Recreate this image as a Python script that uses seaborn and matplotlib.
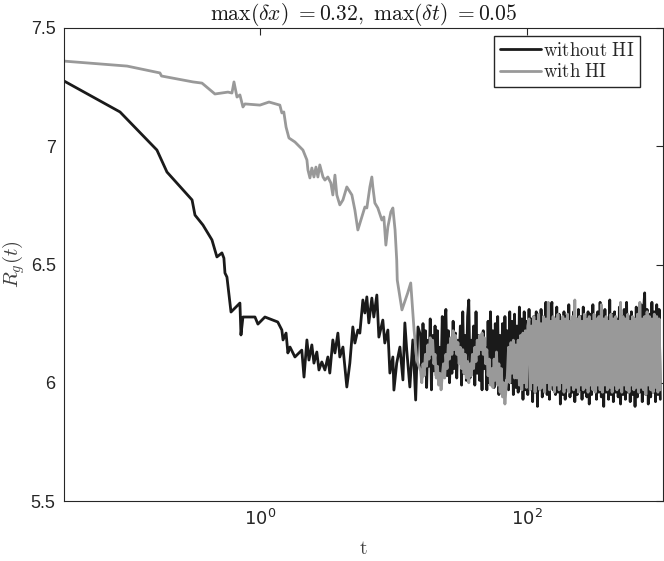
import matplotlib
matplotlib.use("Agg")
import matplotlib.pyplot as plt
import seaborn as sns
import pandas as pd

# early part of each run
t_no_hi = [0.034, 0.0894, 0.169, 0.201, 0.310, 0.326, 0.374, 0.437, 0.476, 0.519,
           0.537, 0.547, 0.566, 0.607, 0.708, 0.721, 0.746, 0.918, 0.966, 1.09,
           1.36, 1.46, 1.49, 1.57, 1.62, 1.68, 1.83, 2.06, 2.14, 2.25,
           2.33, 2.45, 2.54, 2.67, 2.77, 2.91, 3.07, 3.23, 3.34, 3.52,
           3.65, 3.84, 3.97, 4.19, 4.33, 4.48, 4.72, 4.97, 5.15, 5.42,
           5.61, 5.91, 6.12, 6.33, 6.55, 6.90, 7.14, 7.52, 7.79, 8.34,
           8.63, 9.10, 9.42, 9.92, 10.1, 10.6, 11.2, 11.8, 12.2, 12.6,
           13.3, 14.0, 14.7, 15.3]
rg_no_hi = [7.276, 7.145, 6.984, 6.891, 6.773, 6.709, 6.667, 6.604, 6.532, 6.549,
            6.527, 6.464, 6.447, 6.299, 6.337, 6.202, 6.278, 6.278, 6.248, 6.278,
            6.257, 6.223, 6.181, 6.210, 6.126, 6.151, 6.109, 6.138, 6.024, 6.181,
            6.096, 6.160, 6.083, 6.130, 6.054, 6.088, 6.054, 6.109, 6.041, 6.181,
            6.126, 6.210, 6.109, 6.151, 6.067, 5.982, 6.083, 6.236, 6.168, 6.223,
            6.210, 6.350, 6.295, 6.363, 6.253, 6.358, 6.278, 6.371, 6.193, 6.265,
            6.168, 6.223, 6.041, 6.109, 5.969, 6.083, 6.151, 6.012, 6.253, 6.138,
            5.982, 6.181, 5.927, 6.236]

t_hi = [0.034, 0.101, 0.178, 0.183, 0.315, 0.368, 0.460, 0.576, 0.617, 0.639,
        0.673, 0.708, 0.746, 0.772, 1.00, 1.17, 1.41, 1.46, 1.51, 1.57,
        1.65, 1.83, 2.10, 2.25, 2.29, 2.37, 2.45, 2.54, 2.63, 2.72,
        2.81, 2.97, 3.07, 3.23, 3.40, 3.52, 3.65, 3.77, 3.97, 4.19,
        4.48, 4.89, 5.15, 5.42, 5.81, 6.12, 6.33, 6.67, 6.90, 7.02,
        7.27, 7.65, 8.20, 8.49, 8.79, 9.10, 9.58, 9.92, 10.3, 10.6,
        10.7, 11.6, 12.8, 13.5, 14.3, 15.0]
rg_hi = [7.360, 7.339, 7.310, 7.297, 7.272, 7.267, 7.221, 7.229, 7.225, 7.272,
         7.208, 7.217, 7.166, 7.179, 7.174, 7.187, 7.174, 7.141, 7.145, 7.081,
         7.035, 7.018, 6.984, 6.942, 6.900, 6.866, 6.908, 6.870, 6.912, 6.870,
         6.921, 6.870, 6.857, 6.870, 6.845, 6.794, 6.878, 6.794, 6.752, 6.773,
         6.828, 6.794, 6.730, 6.646, 6.701, 6.743, 6.739, 6.828, 6.870, 6.828,
         6.760, 6.739, 6.688, 6.701, 6.582, 6.659, 6.722, 6.739, 6.646, 6.519,
         6.434, 6.308, 6.379, 6.422, 6.223, 6.096]

# fluctuating tail, shared sampling times
t_tail = [16.0, 16.34, 16.68, 17.03, 17.39, 17.76, 18.13, 18.51, 18.90, 19.30,
          19.70, 20.12, 20.54, 20.97, 21.41, 21.86, 22.32, 22.79, 23.27, 23.76,
          24.26, 24.77, 25.29, 25.82, 26.36, 26.92, 27.48, 28.06, 28.65, 29.25,
          29.87, 30.49, 31.13, 31.79, 32.46, 33.14, 33.84, 34.55, 35.27, 36.01,
          36.77, 37.54, 38.33, 39.14, 39.96, 40.80, 41.66, 42.53, 43.42, 44.34,
          45.27, 46.22, 47.19, 48.18, 49.19, 50.22, 51.28, 52.36, 53.46, 54.58,
          55.73, 56.90, 58.09, 59.31, 60.56, 61.83, 63.13, 64.45, 65.81, 67.19,
          68.60, 70.04, 71.51, 73.02, 74.55, 76.12, 77.71, 79.35, 81.01, 82.72,
          84.45, 86.23, 88.04, 89.89, 91.78, 93.70, 95.67, 97.68, 99.73, 101.8,
          104.0, 106.2, 108.4, 110.7, 113.0, 115.4, 117.8, 120.3, 122.8, 125.4,
          128.0, 130.7, 133.5, 136.3, 139.1, 142.1, 145.0, 148.1, 151.2, 154.4,
          157.6, 160.9, 164.3, 167.8, 171.3, 174.9, 178.6, 182.3, 186.2, 190.1,
          194.1, 198.1, 202.3, 206.6, 210.9, 215.3, 219.8, 224.5, 229.2, 234.0,
          238.9, 243.9, 249.0, 254.3, 259.6, 265.1, 270.6, 276.3, 282.1, 288.1,
          294.1, 300.3, 306.6, 313.0, 319.6, 326.3, 333.2, 340.2, 347.3, 354.6,
          362.1, 369.7, 377.4, 385.4, 393.5, 401.7, 410.2, 418.8, 427.6, 436.6,
          445.7, 455.1, 464.6, 474.4, 484.4, 494.5, 504.9, 515.5, 526.4, 537.4,
          548.7, 560.2, 572.0, 584.0, 596.3, 608.8, 621.6, 634.7, 648.0, 661.6,
          675.5, 689.7, 704.2, 719.0, 734.1, 749.5, 765.3, 781.4, 797.8, 814.5,
          831.6, 849.1, 867.0, 885.2, 903.8, 922.7, 942.1, 961.9, 982.1, 1002.8]
rg_no_hi_tail = [6.20, 6.02, 6.25, 6.08, 6.22, 5.98, 6.18, 6.07, 6.27, 5.97,
                 6.20, 6.05, 6.24, 6.03, 6.22, 6.00, 6.15, 6.04, 6.28, 6.06,
                 6.25, 6.31, 6.03, 6.22, 6.00, 6.15, 6.04, 6.26, 6.06, 6.21,
                 6.02, 6.18, 6.10, 6.24, 5.99, 6.30, 6.04, 6.20, 6.01, 6.28,
                 6.35, 6.02, 6.18, 6.10, 6.24, 5.99, 6.30, 6.04, 6.20, 6.01,
                 6.15, 5.97, 6.22, 6.06, 6.15, 5.97, 6.26, 6.00, 6.30, 6.04,
                 6.22, 5.98, 6.25, 6.02, 6.28, 5.95, 6.20, 6.00, 6.25, 5.94,
                 6.28, 6.02, 6.22, 5.97, 6.30, 6.00, 6.26, 5.95, 6.29, 5.98,
                 6.24, 5.96, 6.32, 5.99, 6.27, 5.93, 6.30, 5.97, 6.26, 5.95,
                 6.31, 5.98, 6.27, 5.92, 6.28, 5.96, 6.30, 5.90, 6.25, 5.97,
                 6.31, 5.94, 6.27, 5.98, 6.34, 5.95, 6.28, 5.93, 6.30, 6.34,
                 5.97, 6.26, 5.95, 6.32, 5.96, 6.29, 5.91, 6.27, 5.95, 6.30,
                 5.93, 6.28, 5.97, 6.33, 5.94, 6.26, 5.96, 6.30, 5.92, 6.27,
                 5.95, 6.31, 5.97, 6.28, 5.93, 6.32, 5.96, 6.27, 5.94, 6.30,
                 5.91, 6.29, 5.95, 6.33, 5.97, 6.27, 5.93, 6.30, 5.96, 6.34,
                 5.94, 6.28, 5.90, 6.31, 5.96, 6.27, 5.93, 6.35, 5.95, 6.29,
                 5.92, 6.30, 5.96, 6.27, 5.94, 6.32, 5.91, 6.28, 5.95, 6.31,
                 5.93, 6.34, 5.96, 6.28, 5.92, 6.30, 5.95, 6.27, 5.90, 6.32,
                 5.94, 6.29, 5.96, 6.33, 5.92, 6.30, 6.38, 5.95, 6.31, 5.91,
                 6.29, 5.94, 6.34, 5.96, 6.30, 5.92, 6.33, 5.95, 6.31, 5.93]
rg_hi_tail = [6.05, 6.00, 6.08, 6.03, 6.12, 6.07, 6.16, 6.10, 6.19, 6.12,
              6.18, 6.08, 6.12, 6.02, 6.07, 5.99, 6.04, 5.97, 6.03, 6.08,
              6.02, 6.12, 6.06, 6.16, 6.10, 6.19, 6.12, 6.22, 6.14, 6.20,
              6.12, 6.17, 6.08, 6.15, 6.06, 6.14, 6.04, 6.12, 6.02, 6.09,
              6.00, 6.08, 6.03, 6.12, 6.06, 6.15, 6.09, 6.18, 6.12, 6.20,
              6.14, 6.21, 6.12, 6.19, 6.08, 6.14, 6.03, 6.10, 5.99, 6.06,
              5.98, 6.10, 6.01, 6.13, 5.99, 6.08, 5.96, 6.06, 5.94, 6.00,
              5.91, 5.98, 6.03, 6.15, 6.00, 6.17, 6.04, 6.18, 6.02, 6.16,
              6.02, 6.18, 5.99, 6.20, 5.97, 6.21, 6.00, 6.22, 5.98, 6.24,
              6.27, 5.97, 6.24, 6.00, 6.28, 5.96, 6.26, 5.99, 6.29, 5.97,
              6.25, 5.98, 6.28, 5.96, 6.27, 6.00, 6.34, 5.97, 6.26, 5.99,
              6.28, 5.96, 6.27, 5.99, 6.29, 5.97, 6.26, 6.00, 6.28, 5.96,
              6.27, 5.98, 6.29, 5.96, 6.26, 5.99, 6.28, 5.97, 6.35, 5.98,
              6.27, 5.96, 6.28, 5.99, 6.26, 5.97, 6.29, 5.98, 6.27, 5.96,
              6.28, 5.99, 6.26, 5.97, 6.29, 5.96, 6.27, 5.99, 6.28, 5.97,
              6.33, 5.96, 6.27, 5.99, 6.28, 5.97, 6.26, 5.98, 6.29, 5.96,
              6.27, 5.99, 6.28, 5.97, 6.26, 5.98, 6.34, 5.96, 6.28, 5.99,
              6.27, 5.97, 6.29, 5.96, 6.26, 5.99, 6.28, 5.97, 6.27, 5.98,
              6.29, 5.96, 6.34, 5.98, 6.27, 5.97, 6.28, 5.95, 6.30, 5.99,
              6.28, 5.97, 6.27, 5.96, 6.29, 5.98, 6.28, 5.96, 6.27, 5.97]

no_hi = pd.DataFrame({"t": t_no_hi + t_tail, "Rg": rg_no_hi + rg_no_hi_tail})
hi = pd.DataFrame({"t": t_hi + t_tail, "Rg": rg_hi + rg_hi_tail})

sns.set_style("white")
plt.rcParams["font.family"] = ["Liberation Sans", "DejaVu Sans"]
plt.rcParams["mathtext.fontset"] = "cm"
axcol = "#262626"

fig = plt.figure(figsize=(6.64, 5.61), dpi=100)
ax = fig.add_axes([64 / 664, 1 - 501 / 561, 599 / 664, 473 / 561])

sns.lineplot(data=no_hi, x="t", y="Rg", ax=ax, color="#1a1a1a", lw=2.0,
             estimator=None, sort=False, label=r"$\mathrm{without\ HI}$")
sns.lineplot(data=hi, x="t", y="Rg", ax=ax, color="#999999", lw=2.0,
             estimator=None, sort=False, label=r"$\mathrm{with\ HI}$")

ax.set_xscale("log")
ax.set_xlim(0.034, 1050)
ax.set_ylim(5.5, 7.5)
ax.set_xticks([1, 100])
ax.set_xticklabels(["$10^0$", "$10^2$"])
ax.minorticks_off()
ax.set_yticks([5.5, 6, 6.5, 7, 7.5])
ax.set_yticklabels(["5.5", "6", "6.5", "7", "7.5"])
ax.tick_params(direction="in", length=5, width=0.8, colors=axcol, labelsize=13,
               top=True, right=True, pad=6)
for lab in ax.get_xticklabels():
    lab.set_math_fontfamily("dejavusans")
for sp in ax.spines.values():
    sp.set_color(axcol)
    sp.set_linewidth(0.8)

ax.set_xlabel(r"$\mathrm{t}$", fontsize=14, color="#404040", labelpad=8)
ax.set_ylabel(r"$R_g(t)$", fontsize=15, color="#404040", labelpad=3)
ax.set_title(r"$\max(\delta x)\ {=}0.32,\ \max(\delta t)\ {=}0.05$", fontsize=15.5,
             color="#1a1a1a", pad=6)

leg = ax.legend(loc="upper right", bbox_to_anchor=(0.9616, 0.983), borderaxespad=0,
                fancybox=False, framealpha=1, edgecolor="#262626", fontsize=13.5,
                handlelength=2.2, handletextpad=0.1, borderpad=0.3, labelspacing=0.2)
leg.get_frame().set_linewidth(1.0)

fig.savefig("out.png", dpi=100)
